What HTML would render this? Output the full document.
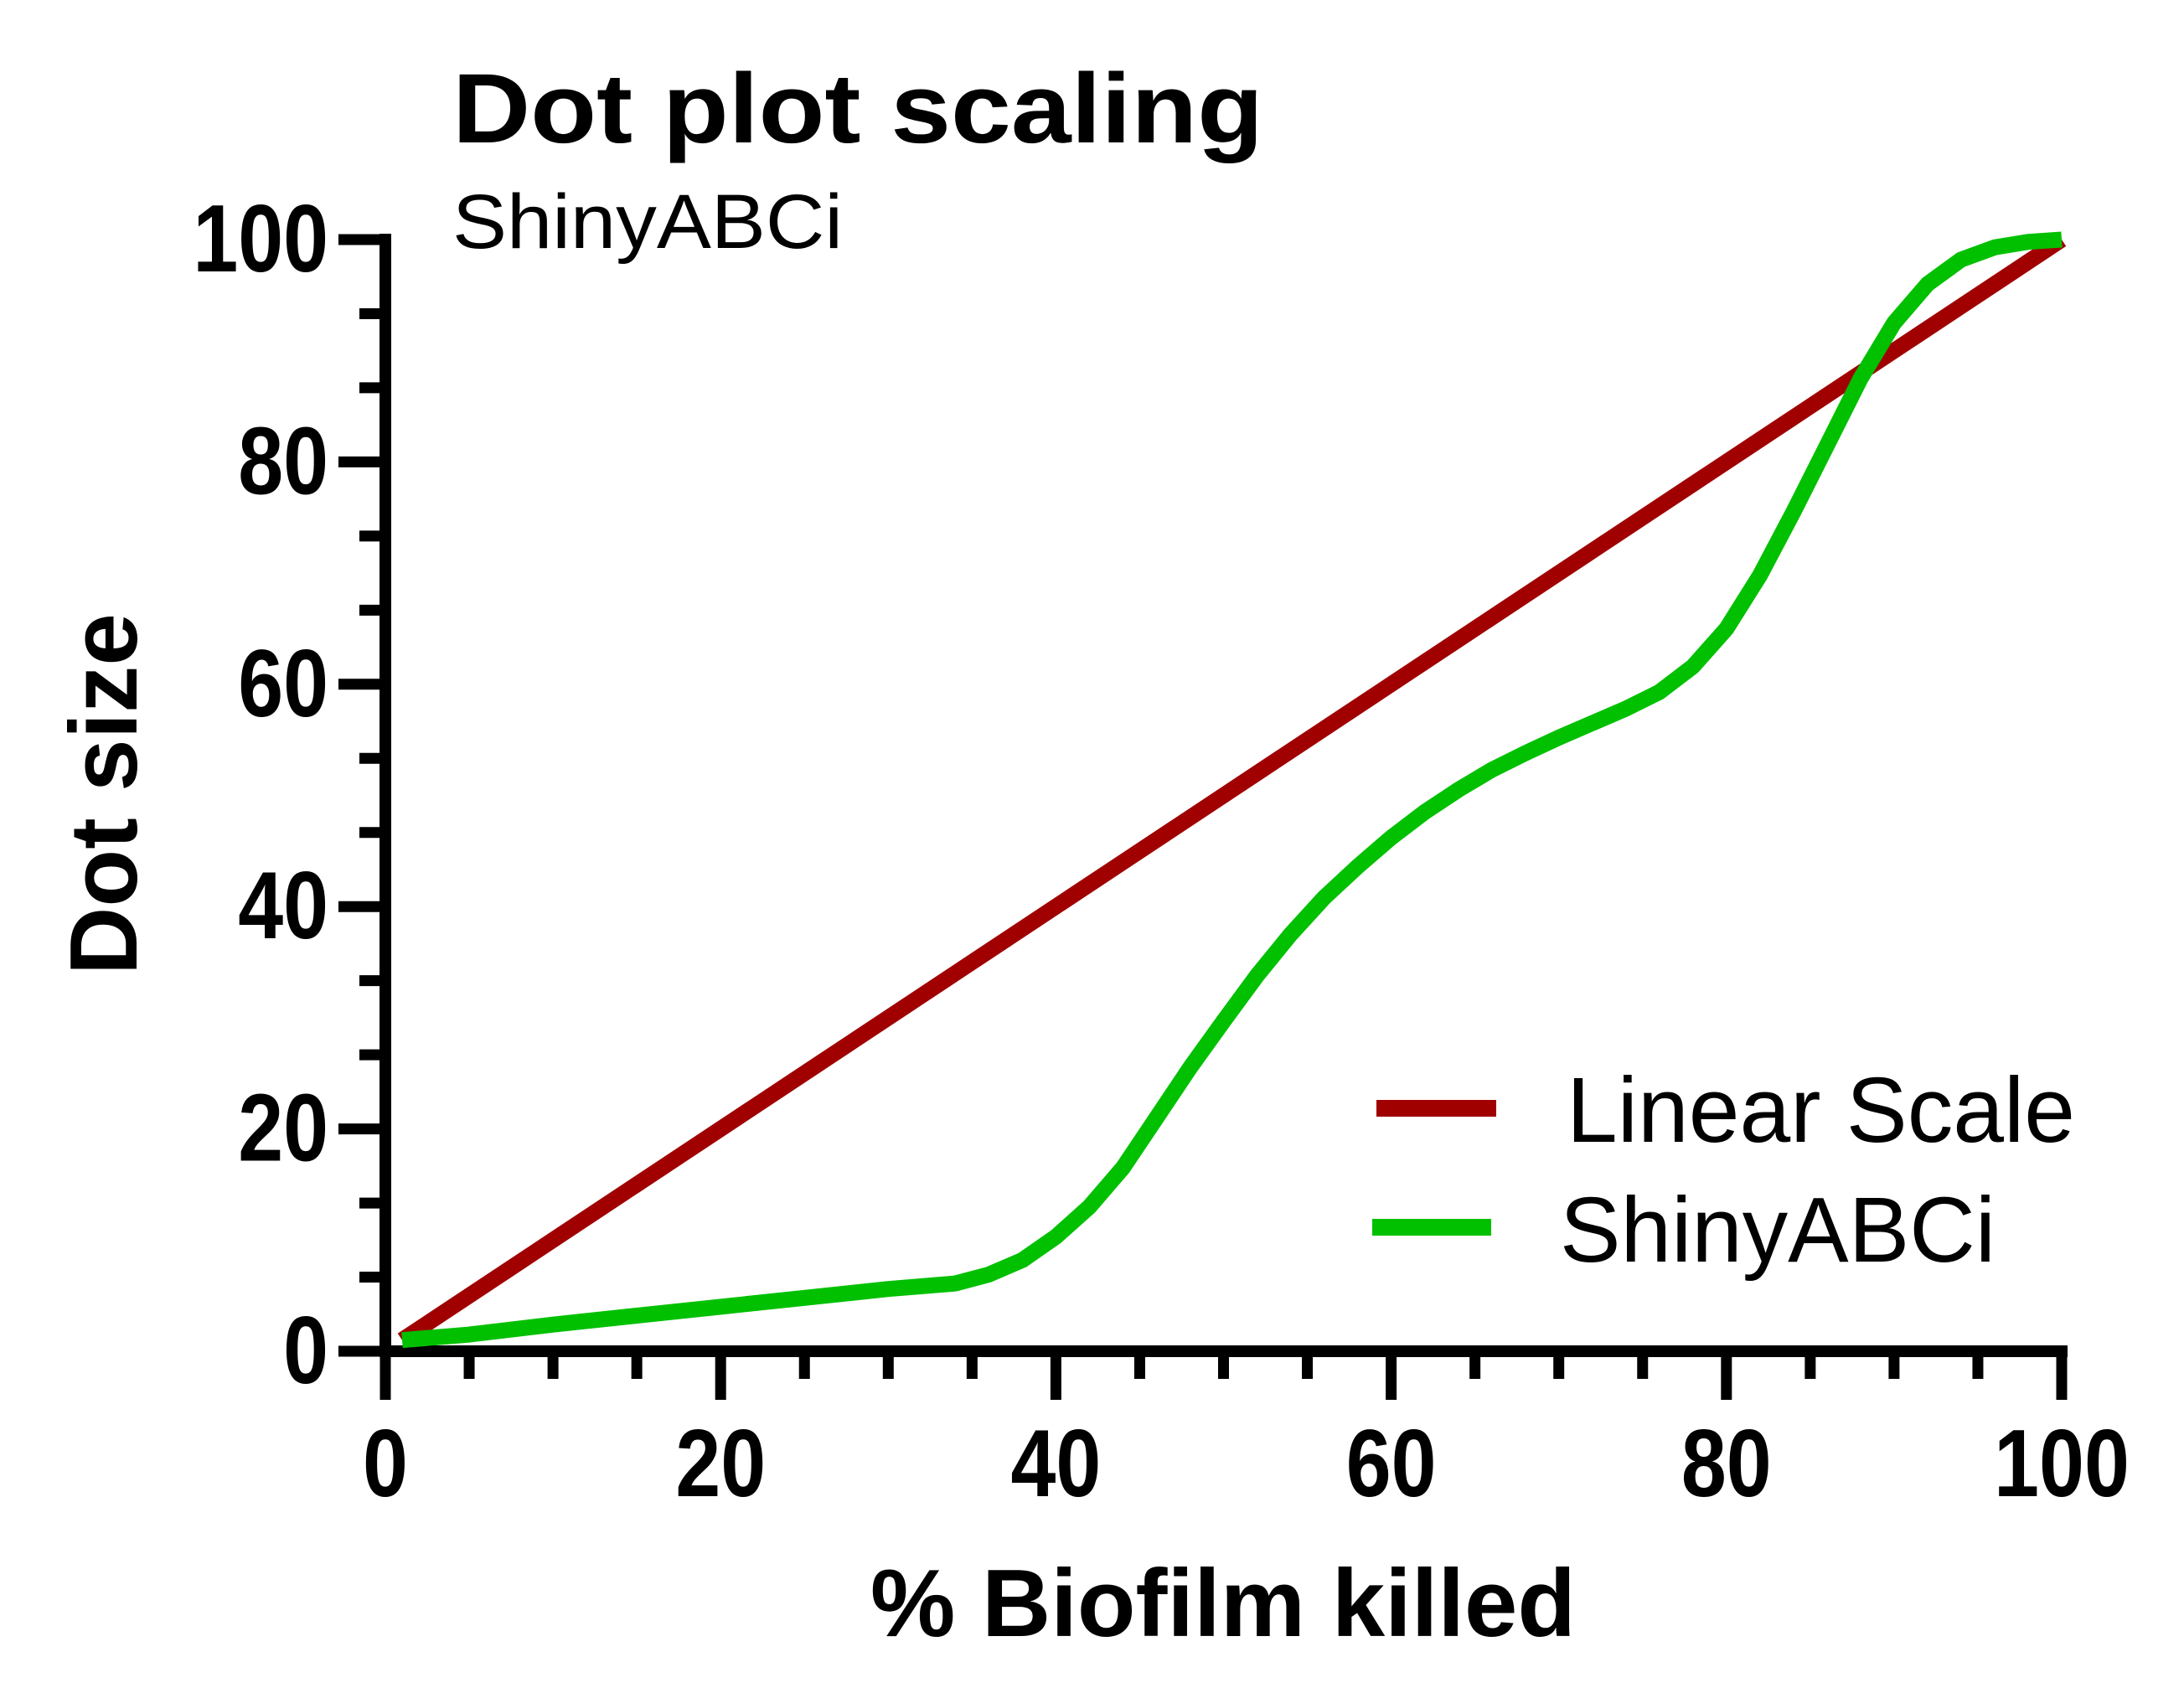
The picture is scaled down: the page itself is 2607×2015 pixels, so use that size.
<!DOCTYPE html>
<html><head><meta charset="utf-8"><style>
html,body{margin:0;padding:0;background:#fff;}
svg{display:block;font-family:"Liberation Sans",Arial,sans-serif;}
</style></head><body>
<svg id="chart" width="2607" height="2015" viewBox="0 0 2607 2015" xmlns="http://www.w3.org/2000/svg">
<rect width="2607" height="2015" fill="#fff"/>
<text x="540" y="170" font-size="118" font-weight="bold" textLength="968" lengthAdjust="spacingAndGlyphs">Dot plot scaling</text>
<text x="540" y="296" font-size="92" textLength="466" lengthAdjust="spacingAndGlyphs">ShinyABCi</text>
<g id="axes"></g>
<g id="series"></g>
<text x="1460" y="1953" font-size="114" font-weight="bold" text-anchor="middle" textLength="842" lengthAdjust="spacingAndGlyphs">% Biofilm killed</text>
<text transform="translate(163,948) rotate(-90)" font-size="114" font-weight="bold" text-anchor="middle" textLength="432" lengthAdjust="spacingAndGlyphs">Dot size</text>
<g>
<line x1="1643" y1="1323" x2="1786" y2="1323" stroke="#a00000" stroke-width="20"/>
<text x="1870" y="1363" font-size="110" textLength="607" lengthAdjust="spacingAndGlyphs">Linear Scale</text>
<line x1="1638" y1="1465" x2="1780" y2="1465" stroke="#00c000" stroke-width="20"/>
<text x="1862" y="1506" font-size="110" textLength="520" lengthAdjust="spacingAndGlyphs">ShinyABCi</text>
</g>
</svg>
<script>
const xTicks = [0, 20, 40, 60, 80, 100];
const yTicks = [0, 20, 40, 60, 80, 100];
const linearX = [1, 100];
const linearY = [1, 100];
const shinyX = [1,5,10,15,20,25,30,34,36,38,40,42,44,46,48,50,52,54,56,58,60,62,64,66,68,70,72,74,76,78,80,82,84,86,88,90,92,94,96,98,100];
const shinyY = [1,1.5,2.4,3.2,4,4.8,5.6,6.1,6.9,8.2,10.3,13,16.5,21,25.5,29.7,33.8,37.5,40.8,43.6,46.2,48.5,50.5,52.3,53.8,55.2,56.5,57.8,59.3,61.6,65,69.8,75.5,81.5,87.5,92.5,96,98.2,99.3,99.8,100];

const X0=460, X1=2461, Y0=1613, Y1=286;
function sx(v){return X0+(X1-X0)*v/100;}
function sy(v){return Y0+(Y1-Y0)*v/100;}
const NS="http://www.w3.org/2000/svg";
const axes=document.getElementById('axes');
const series=document.getElementById('series');
function mk(tag,attrs,parent){const e=document.createElementNS(NS,tag);for(const k in attrs)e.setAttribute(k,attrs[k]);parent.appendChild(e);return e;}

let el=mk('line',{x1:X0,y1:Y0,x2:X1+7,y2:Y0,stroke:'#000','stroke-width':14},axes);


el=mk('line',{x1:X0,y1:Y0+7,x2:X0,y2:Y1-7,stroke:'#000','stroke-width':14},axes);



for(let v=0;v<=100;v+=5){
  const major=v%20===0;
  const t=mk('line',{x1:sx(v),y1:Y0,x2:sx(v),y2:Y0+(major?58:33),stroke:'#000','stroke-width':13},axes);
  
  
}
for(let i=0;i<=15;i++){
  const v=i*20/3;
  const major=i%3===0;
  const t=mk('line',{x1:X0,y1:sy(v),x2:X0-(major?56:31),y2:sy(v),stroke:'#000','stroke-width':13},axes);
  
  
}
xTicks.forEach(v=>{
  const t=mk('text',{transform:'translate('+sx(v)+',1786) scale(0.85,1)','font-size':114,'font-weight':'bold','text-anchor':'middle'},axes);
  t.textContent=String(v);
  
  
});
yTicks.forEach(v=>{
  const t=mk('text',{transform:'translate(392,'+(sy(v)+38)+') scale(0.85,1)','font-size':114,'font-weight':'bold','text-anchor':'end'},axes);
  t.textContent=String(v);
  
  
});

function pathFrom(xs,ys){return xs.map((x,i)=>(i?'L':'M')+sx(x).toFixed(1)+','+sy(ys[i]).toFixed(1)).join(' ');}
el=mk('path',{d:pathFrom(linearX,linearY),fill:'none',stroke:'#a00000','stroke-width':19,'stroke-linejoin':'round'},series);


el=mk('path',{d:pathFrom(shinyX,shinyY),fill:'none',stroke:'#00c000','stroke-width':19,'stroke-linejoin':'round'},series);


</script>
</body></html>
